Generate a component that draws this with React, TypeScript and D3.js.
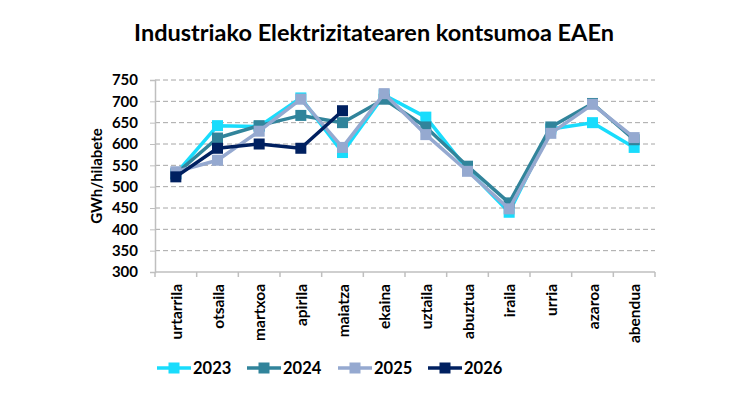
import * as d3 from 'd3';
import { useRef, useEffect } from 'react';

const months = ['urtarrila', 'otsaila', 'martxoa', 'apirila', 'maiatza', 'ekaina', 'uztaila', 'abuztua', 'iraila', 'urria', 'azaroa', 'abendua'];
const years = ['2023', '2024', '2025', '2026'];
const yTicks = [300, 350, 400, 450, 500, 550, 600, 650, 700, 750];

const values2023 = [530, 643, 641, 708, 580, 715, 663, 540, 440, 635, 650, 592];
const values2024 = [530, 614, 643, 667, 650, 705, 640, 548, 462, 640, 695, 610];
const values2025 = [535, 562, 630, 705, 592, 718, 622, 536, 448, 625, 693, 615];
const values2026 = [523, 590, 600, 590, 678];

const seriesValues = [values2023, values2024, values2025, values2026];
const colors = ['#19dcfc', '#31849b', '#95a9d0', '#002060'];

export default function App() {
    const ref = useRef<SVGSVGElement>(null);

    useEffect(() => {
        const width = 750;
        const height = 400;
        const margin = { top: 80, right: 95, bottom: 128, left: 155 };
        const font = 'Lato, "Open Sans", sans-serif';

        const svg = d3.select(ref.current)
            .attr('width', width)
            .attr('height', height);
        svg.selectAll('*').remove();

        const x = d3.scaleBand()
            .domain(months)
            .range([margin.left, width - margin.right]);

        const y = d3.scaleLinear()
            .domain([300, 750])
            .range([height - margin.bottom, margin.top]);

        // Title
        svg.append('text')
            .attr('x', 374)
            .attr('y', 41)
            .attr('text-anchor', 'middle')
            .style('font-family', font)
            .style('font-weight', 'bold')
            .style('font-size', '23.5px')
            .attr('fill', '#000')
            .text('Industriako Elektrizitatearen kontsumoa EAEn');

        // Dashed gridlines
        svg.append('g')
            .selectAll('line')
            .data(yTicks.filter(t => t > 300))
            .enter()
            .append('line')
            .attr('x1', margin.left)
            .attr('x2', width - margin.right)
            .attr('y1', d => y(d))
            .attr('y2', d => y(d))
            .attr('stroke', '#a6a6a6')
            .attr('stroke-width', 1)
            .attr('stroke-dasharray', '5,3');

        // Y axis
        const yAxis = svg.append('g')
            .attr('transform', `translate(${margin.left},0)`)
            .call(d3.axisLeft(y).tickValues(yTicks).tickSize(5).tickPadding(12));
        yAxis.select('.domain').attr('stroke', '#bfbfbf').attr('stroke-width', 1.5);
        yAxis.selectAll('.tick line').attr('stroke', '#bfbfbf');
        yAxis.selectAll('.tick text')
            .attr('fill', '#000')
            .style('font-family', font)
            .style('font-weight', 'bold')
            .style('font-size', '15px');

        // X axis line and ticks at category boundaries
        const baseY = y(300);
        svg.append('line')
            .attr('x1', margin.left)
            .attr('x2', width - margin.right)
            .attr('y1', baseY)
            .attr('y2', baseY)
            .attr('stroke', '#bfbfbf')
            .attr('stroke-width', 1.5);
        const bounds = months.map(m => x(m) as number).concat([width - margin.right]);
        svg.append('g')
            .selectAll('line')
            .data(bounds)
            .enter()
            .append('line')
            .attr('x1', d => d)
            .attr('x2', d => d)
            .attr('y1', baseY)
            .attr('y2', baseY + 5)
            .attr('stroke', '#bfbfbf')
            .attr('stroke-width', 1.5);

        // Month labels, rotated
        svg.append('g')
            .selectAll('text')
            .data(months)
            .enter()
            .append('text')
            .attr('transform', d => `translate(${(x(d) as number) + x.bandwidth() / 2 + 6},${baseY + 12}) rotate(-90)`)
            .attr('text-anchor', 'end')
            .style('font-family', font)
            .style('font-weight', 'bold')
            .style('font-size', '15.5px')
            .attr('fill', '#000')
            .text(d => d);

        // Y axis title
        svg.append('text')
            .attr('transform', `translate(102,${(margin.top + baseY) / 2}) rotate(-90)`)
            .attr('text-anchor', 'middle')
            .style('font-family', font)
            .style('font-weight', 'bold')
            .style('font-size', '15px')
            .attr('fill', '#000')
            .text('GWh/hilabete');

        const cx = (i: number) => (x(months[i]) as number) + x.bandwidth() / 2;
        const line = d3.line<number>()
            .x((d, i) => cx(i))
            .y(d => y(d));

        const sq = 11;
        seriesValues.forEach((vals, k) => {
            const g = svg.append('g');
            g.append('path')
                .datum(vals)
                .attr('d', line)
                .attr('fill', 'none')
                .attr('stroke', colors[k])
                .attr('stroke-width', 3.5)
                .attr('stroke-linejoin', 'round');
            g.selectAll('rect')
                .data(vals)
                .enter()
                .append('rect')
                .attr('x', (d, i) => cx(i) - sq / 2)
                .attr('y', d => y(d) - sq / 2)
                .attr('width', sq)
                .attr('height', sq)
                .attr('fill', colors[k]);
        });

        // Legend
        const legendX = [157, 247, 338, 428];
        const legendY = 368;
        const legend = svg.append('g');
        years.forEach((yr, k) => {
            const lx = legendX[k];
            legend.append('line')
                .attr('x1', lx)
                .attr('x2', lx + 34)
                .attr('y1', legendY)
                .attr('y2', legendY)
                .attr('stroke', colors[k])
                .attr('stroke-width', 3.5);
            legend.append('rect')
                .attr('x', lx + 17 - sq / 2)
                .attr('y', legendY - sq / 2)
                .attr('width', sq)
                .attr('height', sq)
                .attr('fill', colors[k]);
            legend.append('text')
                .attr('x', lx + 36)
                .attr('y', legendY)
                .attr('dy', '0.36em')
                .style('font-family', font)
                .style('font-weight', 'bold')
                .style('font-size', '16.5px')
                .attr('fill', '#000')
                .text(yr);
        });
    }, []);

    return (
        <svg ref={ref} style={{ position: 'absolute', left: 0, top: 0 }}></svg>
    );
}
